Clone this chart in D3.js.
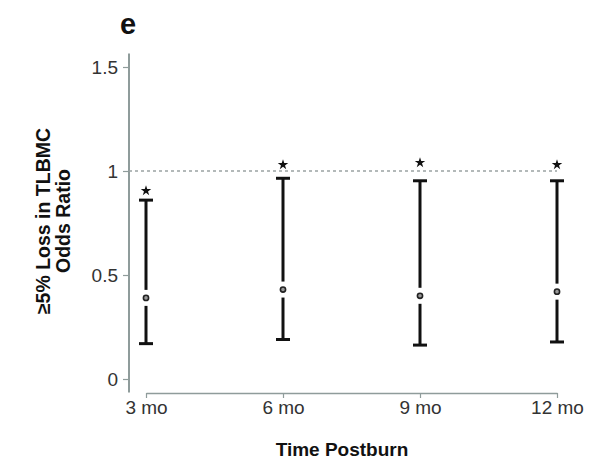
<!DOCTYPE html>
<html>
<head>
<meta charset="utf-8">
<script src="https://cdn.jsdelivr.net/npm/d3@7"></script>
<style>
body { margin: 0; background: #fff; }
text { font-family: "Liberation Sans", Arial, sans-serif; }
</style>
</head>
<body>
<script>
var width = 600,
    height = 475;

// data
var months = ["3 mo", "6 mo", "9 mo", "12 mo"];
var oddsRatio = [0.39, 0.43, 0.40, 0.42];
var lowerCI = [0.17, 0.19, 0.163, 0.178];
var upperCI = [0.86, 0.965, 0.953, 0.953];
var starAt = [0.905, 1.03, 1.04, 1.03];
var yTicks = [0, 0.5, 1, 1.5];

var svg = d3.select("body").append("svg").attr("width", width).attr("height", height);

var x = d3.scalePoint()
    .domain(months)
    .range([146, 557]);

var y = d3.scaleLinear()
    .domain([0, 1.5])
    .range([379, 67]);

var axisGrey = "#8f9c9b";

// y axis
var yAxis = svg.append("g")
    .attr("transform", "translate(129,0)")
    .call(d3.axisLeft(y).tickValues(yTicks).tickSize(6).tickSizeOuter(0)
        .tickFormat(function (d) { return d; }));
yAxis.select(".domain").remove();
yAxis.append("line") // the axis line runs a bit past the ticks
    .attr("y1", y(1.565)).attr("y2", y(-0.065))
    .attr("stroke", axisGrey).attr("stroke-width", 2);
yAxis.selectAll(".tick line").attr("stroke", axisGrey).attr("stroke-width", 1.2);
yAxis.selectAll(".tick text")
    .attr("x", -11)
    .attr("dy", "0.36em")
    .attr("fill", "#333")
    .style("font-size", "19px");

// x axis
var xAxis = svg.append("g")
    .attr("transform", "translate(0,393)")
    .call(d3.axisBottom(x).tickSize(5).tickSizeOuter(0));
xAxis.select(".domain").attr("stroke", axisGrey).attr("stroke-width", 1.5);
xAxis.selectAll(".tick line").attr("stroke", axisGrey).attr("stroke-width", 1.2);
xAxis.selectAll(".tick text")
    .attr("y", 8)
    .attr("fill", "#333")
    .style("font-size", "19px");

// reference line at OR = 1
svg.append("line")
    .attr("x1", 129).attr("x2", 557)
    .attr("y1", y(1)).attr("y2", y(1))
    .attr("stroke", "#9aa3a3")
    .attr("stroke-width", 1.5)
    .attr("stroke-dasharray", "3,3");

// error bars
var bars = svg.append("g").selectAll("g.bar").data(months).enter().append("g")
    .attr("class", "bar");
var gap = 8, capW = 7;

bars.append("line") // upper part of the whisker
    .attr("x1", d => x(d)).attr("x2", d => x(d))
    .attr("y1", (d, i) => y(upperCI[i]))
    .attr("y2", (d, i) => y(oddsRatio[i]) - gap)
    .attr("stroke", "#111").attr("stroke-width", 3);
bars.append("line") // lower part
    .attr("x1", d => x(d)).attr("x2", d => x(d))
    .attr("y1", (d, i) => y(oddsRatio[i]) + gap)
    .attr("y2", (d, i) => y(lowerCI[i]))
    .attr("stroke", "#111").attr("stroke-width", 3);
bars.append("line") // top cap
    .attr("x1", d => x(d) - capW).attr("x2", d => x(d) + capW)
    .attr("y1", (d, i) => y(upperCI[i])).attr("y2", (d, i) => y(upperCI[i]))
    .attr("stroke", "#111").attr("stroke-width", 3);
bars.append("line") // bottom cap
    .attr("x1", d => x(d) - capW).attr("x2", d => x(d) + capW)
    .attr("y1", (d, i) => y(lowerCI[i])).attr("y2", (d, i) => y(lowerCI[i]))
    .attr("stroke", "#111").attr("stroke-width", 3);
bars.append("circle") // point estimate
    .attr("cx", d => x(d))
    .attr("cy", (d, i) => y(oddsRatio[i]))
    .attr("r", 2.6)
    .attr("fill", "#999")
    .attr("stroke", "#222")
    .attr("stroke-width", 1.6);
bars.append("path") // significance star
    .attr("d", d3.symbol().type(d3.symbolStar).size(34))
    .attr("transform", (d, i) => "translate(" + x(d) + "," + y(starAt[i]) + ")")
    .attr("fill", "#111");

// titles
svg.append("text")
    .attr("x", 128).attr("y", 34)
    .attr("text-anchor", "middle")
    .style("font-size", "29px").style("font-weight", "bold")
    .attr("fill", "#111")
    .text("e");

svg.append("text")
    .attr("x", 342).attr("y", 456)
    .attr("text-anchor", "middle")
    .style("font-size", "19px").style("font-weight", "bold")
    .attr("fill", "#111")
    .text("Time Postburn");

var yLab = svg.append("text")
    .attr("transform", "translate(0,221) rotate(-90)")
    .attr("text-anchor", "middle")
    .style("font-size", "19.5px").style("font-weight", "bold")
    .attr("fill", "#111");
yLab.append("tspan").attr("x", 0).attr("y", 50).text("≥5% Loss in TLBMC");
yLab.append("tspan").attr("x", 0).attr("y", 70).text("Odds Ratio");
</script>
</body>
</html>
